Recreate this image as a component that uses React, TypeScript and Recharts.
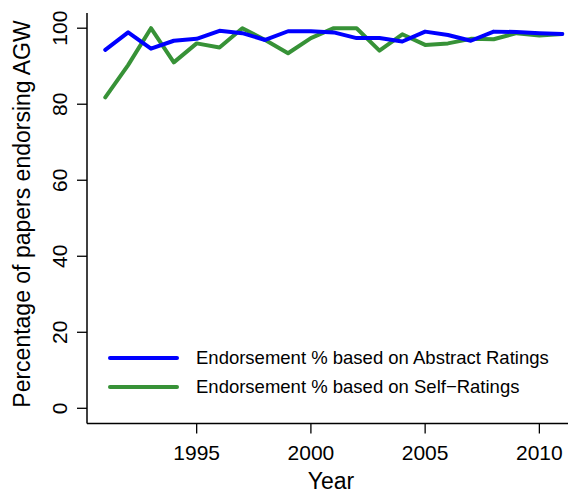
import React from 'react';
import { LineChart, Line, XAxis, YAxis, Legend } from 'recharts';

const years = [1991, 1992, 1993, 1994, 1995, 1996, 1997, 1998, 1999, 2000, 2001, 2002, 2003, 2004, 2005, 2006, 2007, 2008, 2009, 2010, 2011];
const abstractPct = [94.3, 98.9, 94.6, 96.7, 97.2, 99.3, 98.7, 96.9, 99.2, 99.2, 98.9, 97.4, 97.4, 96.5, 99.1, 98.2, 96.7, 99.1, 99.0, 98.7, 98.5];
const selfPct = [81.8, 90.3, 100, 91.0, 96.0, 94.9, 100, 96.9, 93.4, 97.4, 100, 100, 94.1, 98.4, 95.6, 96.0, 97.2, 97.1, 98.7, 98.1, 98.5];
const xTicks = [1995, 2000, 2005, 2010];
const yTicks = [0, 20, 40, 60, 80, 100];
const xDomain = [1990.2, 2011.8];
const yDomain = [-4, 104];

const ABSTRACT_NAME = 'Endorsement % based on Abstract Ratings';
const SELF_NAME = 'Endorsement % based on Self\u2212Ratings';
const legendOrder = [ABSTRACT_NAME, SELF_NAME];

const data = years.map((y, i) => ({ year: y, abstract: abstractPct[i], self: selfPct[i] }));

const FONT = '"Liberation Sans", Arial, Helvetica, sans-serif';

const XTick = (props: any) => {
  const { x, y, payload } = props;
  return (
    <text x={x} y={y + 26.5} textAnchor="middle" fontFamily={FONT} fontSize={21} fill="#000">
      {payload.value}
    </text>
  );
};

const YTick = (props: any) => {
  const { x, y, payload } = props;
  const bx = x - 10.3;
  return (
    <text x={bx} y={y} transform={`rotate(-90, ${bx}, ${y})`} textAnchor="middle" fontFamily={FONT} fontSize={21} fill="#000">
      {payload.value}
    </text>
  );
};

const renderLegend = (props: any) => {
  const items = [...(props.payload || [])].sort(
    (a: any, b: any) => legendOrder.indexOf(a.value) - legendOrder.indexOf(b.value)
  );
  return (
    <div style={{ fontFamily: FONT, fontSize: 18.5, color: '#000' }}>
      {items.map((it: any) => (
        <div key={it.value} style={{ display: 'flex', alignItems: 'center', height: 29 }}>
          <div style={{ width: 71, height: 4, background: it.color, borderRadius: 2, marginRight: 17 }} />
          <span style={{ whiteSpace: 'nowrap' }}>{it.value}</span>
        </div>
      ))}
    </div>
  );
};

export default function App() {
  return (
    <div style={{ position: 'absolute', left: 0, top: 0, width: 568, height: 490, overflow: 'hidden', background: '#fff' }}>
      <LineChart width={590} height={490} data={data} margin={{ top: 13, right: 9.5, bottom: 0, left: 0 }}>
        <XAxis
          xAxisId="top"
          dataKey="year"
          type="number"
          orientation="top"
          domain={xDomain}
          allowDataOverflow
          height={0}
          tick={false}
          tickLine={false}
          axisLine={{ stroke: '#000', strokeWidth: 1.5 }}
        />
        <XAxis
          dataKey="year"
          type="number"
          domain={xDomain}
          ticks={xTicks}
          allowDataOverflow
          axisLine={{ stroke: '#000', strokeWidth: 1.5 }}
          tickLine={{ stroke: '#000', strokeWidth: 1.3 }}
          tickSize={10}
          tickMargin={0}
          height={66.5}
          tick={<XTick />}
          label={{
            content: (p: any) => {
              const vb = p.viewBox || { x: 87, y: 423.5, width: 493.5, height: 66.5 };
              return (
                <text x={331} y={vb.y + 65} textAnchor="middle" fontFamily={FONT} fontSize={23} fill="#000">
                  Year
                </text>
              );
            },
          }}
        />
        <YAxis
          type="number"
          domain={yDomain}
          ticks={yTicks}
          allowDataOverflow
          axisLine={{ stroke: '#000', strokeWidth: 1.5 }}
          tickLine={{ stroke: '#000', strokeWidth: 1.3 }}
          tickSize={10}
          tickMargin={0}
          width={87}
          tick={<YTick />}
          label={{
            content: () => {
              const cy = 214;
              const cx = 30;
              return (
                <text x={cx} y={cy} transform={`rotate(-90, ${cx}, ${cy})`} textAnchor="middle" fontFamily={FONT} fontSize={23} fill="#000">
                  Percentage of papers endorsing AGW
                </text>
              );
            },
          }}
        />
        <Line
          dataKey="self"
          name={SELF_NAME}
          stroke="#379237"
          strokeWidth={4}
          dot={false}
          isAnimationActive={false}
          strokeLinejoin="round"
          strokeLinecap="round"
        />
        <Line
          dataKey="abstract"
          name={ABSTRACT_NAME}
          stroke="#0000FF"
          strokeWidth={4}
          dot={false}
          isAnimationActive={false}
          strokeLinejoin="round"
          strokeLinecap="round"
        />
        <Legend
          layout="vertical"
          align="center"
          verticalAlign="middle"
          content={renderLegend}
          wrapperStyle={{ position: 'absolute', left: 108, top: 343.5, width: 460, bottom: 'auto', right: 'auto' }}
        />
      </LineChart>
    </div>
  );
}
